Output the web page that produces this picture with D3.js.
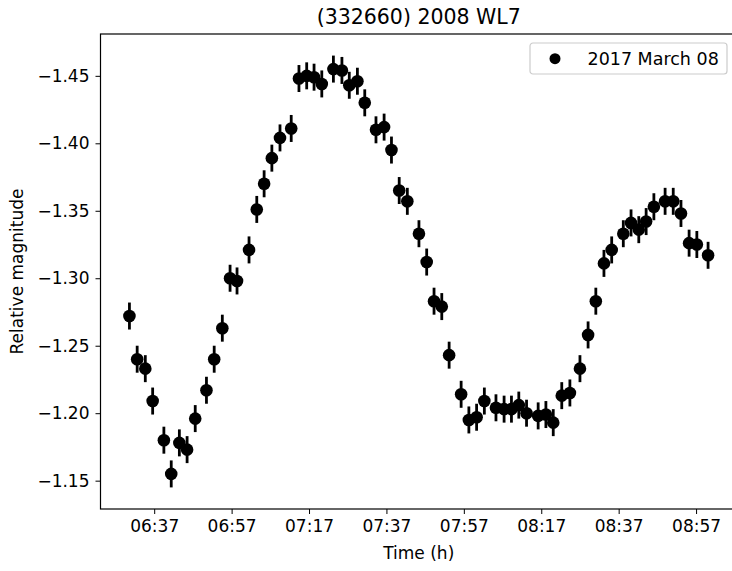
<!DOCTYPE html>
<html>
<head>
<meta charset="utf-8">
<script src="https://cdn.jsdelivr.net/npm/d3@7"></script>
<style>
  body { margin: 0; background: #fff; }
  svg { display: block; font-family: "DejaVu Sans", sans-serif; }
</style>
</head>
<body>
<svg width="732" height="571"></svg>
<script>
/* data: time in minutes after 06:00, relative magnitude */
var minutes = [30.6, 32.6, 34.7, 36.6, 39.5, 41.4, 43.5, 45.5, 47.6, 50.5,
  52.5, 54.6, 56.6, 58.4, 61.5, 63.5, 65.4, 67.4, 69.5, 72.4,
  74.4, 76.4, 78.3, 80.3, 83.3, 85.5, 87.4, 89.5, 91.4, 94.3,
  96.4, 98.3, 100.3, 102.4, 105.4, 107.4, 109.3, 111.3, 113.2, 116.3,
  118.3, 120.3, 122.3, 125.3, 127.4, 129.3, 131.2, 133.2, 136.2, 138.2,
  140.1, 142.3, 144.4, 147.0, 149.1, 151.1, 153.2, 155.2, 158.2, 160.2,
  162.2, 164.1, 166.1, 169.0, 171.1, 173.1, 175.2, 177.2, 180.1];

var magnitudes = [-1.272, -1.240, -1.233, -1.209, -1.180, -1.155, -1.178, -1.173, -1.196, -1.217,
  -1.240, -1.263, -1.300, -1.298, -1.321, -1.351, -1.370, -1.389, -1.404, -1.411,
  -1.448, -1.450, -1.449, -1.444, -1.455, -1.454, -1.443, -1.446, -1.430, -1.410,
  -1.412, -1.395, -1.365, -1.357, -1.333, -1.312, -1.283, -1.279, -1.243, -1.214,
  -1.195, -1.197, -1.209, -1.204, -1.203, -1.203, -1.206, -1.200, -1.198, -1.199,
  -1.193, -1.213, -1.215, -1.233, -1.258, -1.283, -1.311, -1.321, -1.333, -1.341,
  -1.336, -1.342, -1.353, -1.357, -1.357, -1.348, -1.326, -1.325, -1.317];

var errorBar = 0.01;

var xTickValues = [37, 57, 77, 97, 117, 137, 157, 177];
var xTickLabels = ["06:37", "06:57", "07:17", "07:37", "07:57", "08:17", "08:37", "08:57"];
var yTickValues = [-1.45, -1.40, -1.35, -1.30, -1.25, -1.20, -1.15];

var title = "(332660) 2008 WL7",
    legendLabel = "2017 March 08";

var data = minutes.map(function(m, i) {
  return {t: m, mag: magnitudes[i]};
});

var svg = d3.select("svg"),
    margin = {top: 34, right: -5, bottom: 62, left: 100.5},
    width = +svg.attr("width") - margin.left - margin.right,
    height = +svg.attr("height") - margin.top - margin.bottom;

/* matplotlib style 5% padding around the data (error bars included) */
var tMin = d3.min(minutes), tMax = d3.max(minutes),
    mMin = d3.min(magnitudes) - errorBar, mMax = d3.max(magnitudes) + errorBar,
    padT = (tMax - tMin) * 0.05, padM = (mMax - mMin) * 0.05;

var x = d3.scaleLinear().domain([tMin - padT, tMax + padT]).range([0, width]);
var y = d3.scaleLinear().domain([mMin - padM, mMax + padM]).range([0, height]);

var g = svg.append("g")
    .attr("transform", "translate(" + margin.left + "," + margin.top + ")");

var xAxis = g.append("g")
    .attr("transform", "translate(0," + height + ")")
    .call(d3.axisBottom(x).tickValues(xTickValues)
      .tickFormat(function(d, i) { return xTickLabels[i]; })
      .tickSizeOuter(0).tickSize(5).tickPadding(6));

var yAxis = g.append("g")
    .call(d3.axisLeft(y).tickValues(yTickValues)
      .tickFormat(function(d) { return d3.format(".2f")(d).replace("-", "\u2212"); })
      .tickSizeOuter(0).tickSize(5).tickPadding(6));

[xAxis, yAxis].forEach(function(a) {
  a.select(".domain").remove();
  a.selectAll(".tick line").attr("stroke", "#000").attr("stroke-width", 1);
  a.selectAll(".tick text").attr("font-size", 17).attr("fill", "#000")
    .attr("font-family", "DejaVu Sans");
});

/* frame */
g.append("rect")
    .attr("width", width).attr("height", height)
    .attr("fill", "none").attr("stroke", "#000").attr("stroke-width", 1.2);

/* error bars */
g.selectAll(".err")
  .data(data)
  .enter().append("line")
    .attr("class", "err")
    .attr("x1", function(d) { return x(d.t); })
    .attr("x2", function(d) { return x(d.t); })
    .attr("y1", function(d) { return y(d.mag - errorBar); })
    .attr("y2", function(d) { return y(d.mag + errorBar); })
    .attr("stroke", "#000").attr("stroke-width", 2.8);

g.selectAll(".dot")
  .data(data)
  .enter().append("circle")
    .attr("class", "dot")
    .attr("cx", function(d) { return x(d.t); })
    .attr("cy", function(d) { return y(d.mag); })
    .attr("r", 6.3)
    .attr("fill", "#000");

/* legend */
var legend = svg.append("g").attr("transform", "translate(530,43)");
legend.append("rect")
    .attr("width", 197).attr("height", 31).attr("rx", 3)
    .attr("fill", "#fff").attr("stroke", "#ccc").attr("stroke-width", 1.2);
legend.append("circle").attr("cx", 25).attr("cy", 15.7).attr("r", 5.5).attr("fill", "#000");
legend.append("text")
    .attr("x", 57.5).attr("y", 22).attr("font-size", 17.5).attr("fill", "#000")
    .text(legendLabel);

/* labels */
svg.append("text")
    .attr("x", margin.left + width / 2).attr("y", 24)
    .attr("text-anchor", "middle").attr("font-size", 20.5).attr("fill", "#000")
    .text(title);

svg.append("text")
    .attr("x", margin.left + width / 2).attr("y", 559)
    .attr("text-anchor", "middle").attr("font-size", 17).attr("fill", "#000")
    .text("Time (h)");

svg.append("text")
    .attr("transform", "translate(23," + (margin.top + height / 2) + ") rotate(-90)")
    .attr("text-anchor", "middle").attr("font-size", 17).attr("fill", "#000")
    .text("Relative magnitude");
</script>
</body>
</html>
